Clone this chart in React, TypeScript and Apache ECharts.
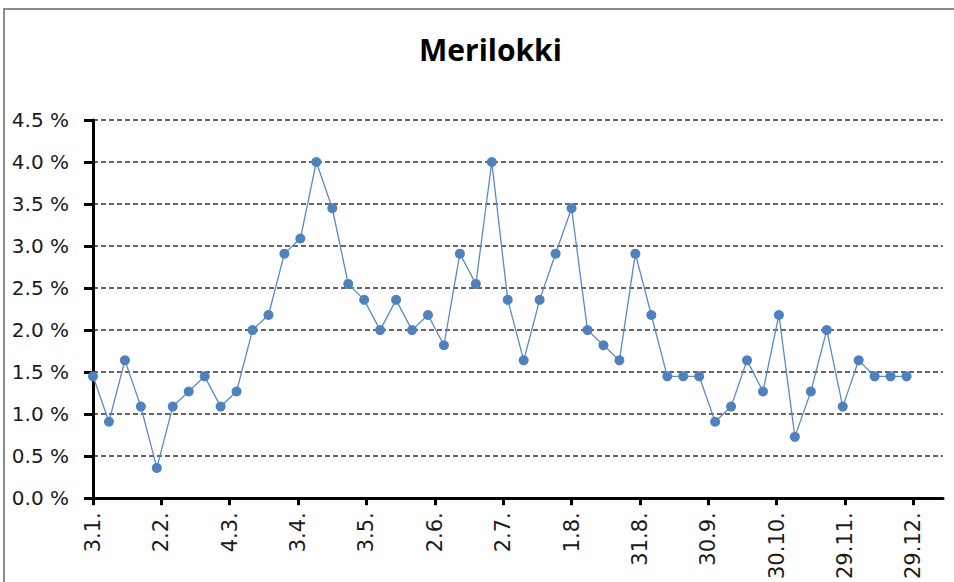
import React, { useEffect, useRef } from "react";
import * as echarts from "echarts";

const TITLE = "Merilokki";

// Observation dates (day.month.) of a non-leap year, weekly
const dates = [
  "3.1.", "10.1.", "17.1.", "24.1.", "31.1.",
  "7.2.", "14.2.", "21.2.", "28.2.",
  "7.3.", "14.3.", "21.3.", "28.3.",
  "4.4.", "11.4.", "18.4.", "25.4.",
  "2.5.", "9.5.", "16.5.", "23.5.", "30.5.",
  "6.6.", "13.6.", "20.6.", "27.6.",
  "4.7.", "11.7.", "18.7.", "25.7.",
  "1.8.", "8.8.", "15.8.", "22.8.", "29.8.",
  "5.9.", "12.9.", "19.9.", "26.9.",
  "3.10.", "10.10.", "17.10.", "24.10.", "31.10.",
  "7.11.", "14.11.", "21.11.", "28.11.",
  "5.12.", "12.12.", "19.12.", "26.12.",
];

// Share (%)
const values = [
  1.45, 0.91, 1.64, 1.09, 0.36, 1.09, 1.27, 1.45, 1.09, 1.27,
  2.0, 2.18, 2.91, 3.09, 4.0, 3.45, 2.55, 2.36, 2.0, 2.36,
  2.0, 2.18, 1.82, 2.91, 2.55, 4.0, 2.36, 1.64, 2.36, 2.91,
  3.45, 2.0, 1.82, 1.64, 2.91, 2.18, 1.45, 1.45, 1.45, 0.91,
  1.09, 1.64, 1.27, 2.18, 0.73, 1.27, 2.0, 1.09, 1.64, 1.45,
  1.45, 1.45,
];

// X axis tick labels (every 30 days from 3.1.)
const xTickLabels = [
  "3.1.", "2.2.", "4.3.", "3.4.", "3.5.", "2.6.", "2.7.",
  "1.8.", "31.8.", "30.9.", "30.10.", "29.11.", "29.12.",
];

const Y_MIN = 0;
const Y_MAX = 4.5;
const Y_STEP = 0.5;
const X_SPAN_DAYS = 373;

function dayOffset(label: string): number {
  const parts = label.split(".");
  const d = parseInt(parts[0], 10);
  const m = parseInt(parts[1], 10);
  const t = Date.UTC(2021, m - 1, d);
  const t0 = Date.UTC(2021, 0, 3);
  return Math.round((t - t0) / 86400000);
}

export default function App() {
  const ref = useRef<HTMLDivElement>(null);
  useEffect(() => {
    if (!ref.current) return;
    const chart = echarts.init(ref.current, undefined, { renderer: "svg" });
    const tickPos = xTickLabels.map(dayOffset);
    const labelMap: Record<number, string> = {};
    tickPos.forEach((p, i) => (labelMap[p] = xTickLabels[i]));
    const data = dates.map((d, i) => [dayOffset(d), values[i]]);

    chart.setOption({
      animation: false,
      backgroundColor: "#ffffff",
      title: {
        text: TITLE,
        left: 414,
        top: 29,
        textStyle: {
          fontFamily: "Open Sans",
          fontWeight: "bold",
          fontSize: 30,
          color: "#000000",
        },
      },
      graphic: [
        {
          type: "rect",
          shape: { x: 4, y: 9, width: 1000, height: 700 },
          style: { fill: "none", stroke: "#8c8c8c", lineWidth: 2 },
          silent: true,
          z: -1,
        },
      ],
      grid: { left: 93, right: 11, top: 120, bottom: 83, containLabel: false },
      xAxis: {
        type: "value",
        min: 0,
        max: X_SPAN_DAYS,
        splitLine: { show: false },
        axisLine: { show: true, lineStyle: { color: "#000000", width: 3 } },
        axisTick: {
          show: true,
          customValues: tickPos,
          length: 7,
          lineStyle: { color: "#000000", width: 3 },
        },
        axisLabel: {
          customValues: tickPos,
          rotate: 90,
          margin: 14,
          fontFamily: "DejaVu Sans",
          fontSize: 21,
          color: "#1a1a1a",
          formatter: (v: number) => labelMap[v] ?? "",
        },
      },
      yAxis: {
        type: "value",
        min: Y_MIN,
        max: Y_MAX,
        interval: Y_STEP,
        axisLine: { show: true, lineStyle: { color: "#000000", width: 3 } },
        axisTick: {
          show: true,
          length: 9,
          lineStyle: { color: "#000000", width: 3 },
        },
        axisLabel: {
          margin: 24,
          fontFamily: "DejaVu Sans",
          fontSize: 20,
          color: "#1a1a1a",
          formatter: (v: number) => v.toFixed(1) + " %",
        },
        splitLine: {
          show: true,
          lineStyle: { color: "#333333", width: 1.5, type: [5, 3] },
        },
      },
      series: [
        {
          type: "line",
          data,
          symbol: "circle",
          symbolSize: 10,
          lineStyle: { color: "#5a8ac6", width: 1.3 },
          itemStyle: { color: "#4f81bd" },
          z: 5,
        },
      ],
    });
    return () => chart.dispose();
  }, []);
  return (
    <div
      ref={ref}
      style={{ position: "fixed", left: 0, top: 0, width: 954, height: 582 }}
    />
  );
}
